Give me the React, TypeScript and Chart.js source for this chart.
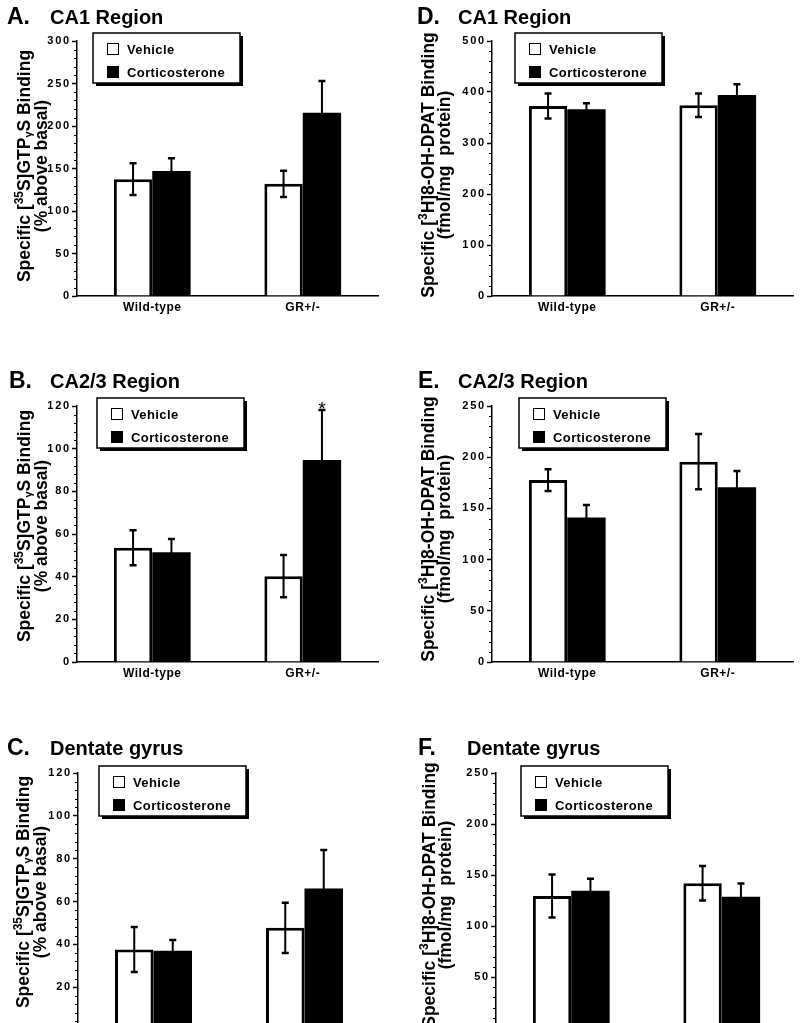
import { useEffect, useRef } from 'react';
import { Chart, registerables, LinearScale, CategoryScale } from 'chart.js';

Chart.register(...registerables);

class SpacedLinearScale extends LinearScale {
  static id = 'spacedLinear';
  static defaults = {};
  drawLabels(area: any) {
    const ctx: any = this.ctx;
    ctx.save();
    ctx.letterSpacing = '1.8px';
    super.drawLabels(area);
    ctx.restore();
  }
}
class SpacedCategoryScale extends CategoryScale {
  static id = 'spacedCategory';
  static defaults = {};
  drawLabels(area: any) {
    const ctx: any = this.ctx;
    ctx.save();
    ctx.letterSpacing = '0.5px';
    super.drawLabels(area);
    ctx.restore();
  }
}
Chart.register(SpacedLinearScale as any, SpacedCategoryScale as any);

// ---------- data ----------
const groups = ['Wild-type', 'GR+/-'];
const seriesNames = ['Vehicle', 'Corticosterone'];

// A. CA1 – [35S]GTPγS binding (% above basal)
const ca1GtpVehicle = [137.5, 132];
const ca1GtpVehicleSem = [18.7, 15.5];
const ca1GtpCort = [147, 215.5];
const ca1GtpCortSem = [15, 37.5];

// B. CA2/3 – [35S]GTPγS binding
const ca23GtpVehicle = [53.5, 40.2];
const ca23GtpVehicleSem = [8.2, 9.9];
const ca23GtpCort = [51.4, 94.7];
const ca23GtpCortSem = [6.3, 23.4];

// C. Dentate gyrus – [35S]GTPγS binding
const dgGtpVehicle = [37.6, 47.7];
const dgGtpVehicleSem = [10.5, 11.7];
const dgGtpCort = [37, 66.1];
const dgGtpCortSem = [5, 18];

// D. CA1 – [3H]8-OH-DPAT binding (fmol/mg protein)
const ca1DpatVehicle = [372.5, 374];
const ca1DpatVehicleSem = [24.5, 23];
const ca1DpatCort = [366, 394];
const ca1DpatCortSem = [12, 21];

// E. CA2/3 – [3H]8-OH-DPAT binding
const ca23DpatVehicle = [177.7, 195.6];
const ca23DpatVehicleSem = [10.6, 27];
const ca23DpatCort = [141, 170.6];
const ca23DpatCortSem = [12.3, 16];

// F. Dentate gyrus – [3H]8-OH-DPAT binding
const dgDpatVehicle = [129.4, 141.9];
const dgDpatVehicleSem = [21, 17];
const dgDpatCort = [134.6, 128.7];
const dgDpatCortSem = [11.7, 13];

// axis ranges: [max, major step, minor step]
const gtpCa1Axis = [300, 50, 10];
const gtpSmallAxis = [120, 20, 4];
const dpatCa1Axis = [500, 100, 20];
const dpatSmallAxis = [250, 50, 10];

// significance marker (group index on the Corticosterone series of panel B)
const ca23GtpStarGroup = [1];

const FONT = '"Liberation Sans", Arial, Helvetica, sans-serif';

type Seg = { t: string; s?: number; dy?: number };
const gtpLine1: Seg[] = [
  { t: 'Specific [' },
  { t: '35', s: 0.68, dy: -0.38 },
  { t: 'S]GTP' },
  { t: 'γ', s: 0.62, dy: 0.1 },
  { t: 'S Binding' },
];
const gtpLine2: Seg[] = [{ t: '(% above basal)' }];
const dpatLine1: Seg[] = [
  { t: 'Specific [' },
  { t: '3', s: 0.68, dy: -0.38 },
  { t: 'H]8-OH-DPAT Binding' },
];
const dpatLine2: Seg[] = [{ t: '(fmol/mg  protein)' }];

type PanelCfg = {
  letter: string;
  title: string;
  left: number;
  top: number;
  w: number;
  h: number;
  area: { l: number; t: number; r: number; b: number };
  axis: number[];
  veh: number[];
  vehErr: number[];
  cort: number[];
  cortErr: number[];
  line1: Seg[];
  line2: Seg[];
  labelCenter: number;
  line1X: number;
  line2X: number;
  legend: { x: number; y: number };
  titleY: number;
  letterX: number;
  textX: number;
  stars?: number[];
};

const panels: PanelCfg[] = [
  {
    letter: 'A.', title: 'CA1 Region', left: 0, top: 0, w: 400, h: 370,
    area: { l: 77, t: 41, r: 378, b: 296 }, axis: gtpCa1Axis,
    veh: ca1GtpVehicle, vehErr: ca1GtpVehicleSem, cort: ca1GtpCort, cortErr: ca1GtpCortSem,
    line1: gtpLine1, line2: gtpLine2, labelCenter: 166, line1X: 30, line2X: 46.5,
    legend: { x: 93, y: 33 }, titleY: 24, letterX: 7, textX: 50,
  },
  {
    letter: 'D.', title: 'CA1 Region', left: 400, top: 0, w: 400, h: 370,
    area: { l: 92, t: 41, r: 393, b: 296 }, axis: dpatCa1Axis,
    veh: ca1DpatVehicle, vehErr: ca1DpatVehicleSem, cort: ca1DpatCort, cortErr: ca1DpatCortSem,
    line1: dpatLine1, line2: dpatLine2, labelCenter: 165, line1X: 33.5, line2X: 50,
    legend: { x: 115, y: 33 }, titleY: 24, letterX: 17, textX: 58,
  },
  {
    letter: 'B.', title: 'CA2/3 Region', left: 0, top: 330, w: 400, h: 370,
    area: { l: 77, t: 76, r: 378, b: 332 }, axis: gtpSmallAxis,
    veh: ca23GtpVehicle, vehErr: ca23GtpVehicleSem, cort: ca23GtpCort, cortErr: ca23GtpCortSem,
    line1: gtpLine1, line2: gtpLine2, labelCenter: 196, line1X: 30, line2X: 46.5,
    legend: { x: 97, y: 68 }, titleY: 58, letterX: 9, textX: 50, stars: ca23GtpStarGroup,
  },
  {
    letter: 'E.', title: 'CA2/3 Region', left: 400, top: 330, w: 400, h: 370,
    area: { l: 92, t: 76, r: 393, b: 332 }, axis: dpatSmallAxis,
    veh: ca23DpatVehicle, vehErr: ca23DpatVehicleSem, cort: ca23DpatCort, cortErr: ca23DpatCortSem,
    line1: dpatLine1, line2: dpatLine2, labelCenter: 199, line1X: 33.5, line2X: 50,
    legend: { x: 119, y: 68 }, titleY: 58, letterX: 18, textX: 58,
  },
  {
    letter: 'C.', title: 'Dentate gyrus', left: 0, top: 660, w: 400, h: 410,
    area: { l: 78, t: 113, r: 380, b: 370 }, axis: gtpSmallAxis,
    veh: dgGtpVehicle, vehErr: dgGtpVehicleSem, cort: dgGtpCort, cortErr: dgGtpCortSem,
    line1: gtpLine1, line2: gtpLine2, labelCenter: 232, line1X: 29, line2X: 45.5,
    legend: { x: 99, y: 106 }, titleY: 95, letterX: 7, textX: 50,
  },
  {
    letter: 'F.', title: 'Dentate gyrus', left: 400, top: 660, w: 400, h: 410,
    area: { l: 96, t: 113, r: 397, b: 368 }, axis: dpatSmallAxis,
    veh: dgDpatVehicle, vehErr: dgDpatVehicleSem, cort: dgDpatCort, cortErr: dgDpatCortSem,
    line1: dpatLine1, line2: dpatLine2, labelCenter: 235, line1X: 34.5, line2X: 51,
    legend: { x: 121, y: 106 }, titleY: 95, letterX: 18, textX: 67,
  },
];

const X_AXIS_H = 30;

function drawRich(ctx: CanvasRenderingContext2D, segs: Seg[], size: number) {
  const widths: number[] = [];
  let total = 0;
  for (const s of segs) {
    ctx.font = `bold ${size * (s.s || 1)}px ${FONT}`;
    const w = ctx.measureText(s.t).width;
    widths.push(w);
    total += w;
  }
  let x = -total / 2;
  segs.forEach((s, i) => {
    ctx.font = `bold ${size * (s.s || 1)}px ${FONT}`;
    ctx.fillText(s.t, x, (s.dy || 0) * size);
    x += widths[i];
  });
}

function makeErrorPlugin() {
  return {
    id: 'errorBars',
    afterDatasetsDraw(chart: any) {
      const ctx: CanvasRenderingContext2D = chart.ctx;
      const y = chart.scales.y;
      chart.data.datasets.forEach((ds: any, i: number) => {
        const meta = chart.getDatasetMeta(i);
        meta.data.forEach((bar: any, j: number) => {
          const v = ds.data[j];
          const e = ds.errors[j];
          const top = y.getPixelForValue(v + e);
          const bot = y.getPixelForValue(v - e);
          ctx.save();
          ctx.strokeStyle = '#000';
          ctx.lineWidth = 2;
          ctx.beginPath();
          ctx.moveTo(bar.x, top);
          ctx.lineTo(bar.x, bot);
          ctx.stroke();
          ctx.lineWidth = 2.5;
          ctx.beginPath();
          ctx.moveTo(bar.x - 3.5, top);
          ctx.lineTo(bar.x + 3.5, top);
          ctx.moveTo(bar.x - 3.5, bot);
          ctx.lineTo(bar.x + 3.5, bot);
          ctx.stroke();
          ctx.restore();
        });
      });
    },
  };
}

function makeDecorPlugin(p: PanelCfg) {
  return {
    id: 'decor',
    afterDraw(chart: any) {
      const ctx: any = chart.ctx;
      const y = chart.scales.y;
      const ca = chart.chartArea;
      ctx.save();
      ctx.letterSpacing = '0px';
      ctx.fillStyle = '#000';
      ctx.textBaseline = 'alphabetic';
      ctx.textAlign = 'left';

      // title
      ctx.font = `bold 23px ${FONT}`;
      ctx.fillText(p.letter, p.letterX, p.titleY);
      ctx.font = `bold 20px ${FONT}`;
      ctx.fillText(p.title, p.textX, p.titleY);

      // minor ticks
      const [max, major, minor] = p.axis;
      ctx.strokeStyle = '#000';
      ctx.lineWidth = 1.2;
      ctx.beginPath();
      for (let v = 0; v <= max + 1e-9; v += minor) {
        if (Math.abs(v / major - Math.round(v / major)) < 1e-6) continue;
        const py = Math.round(y.getPixelForValue(v)) + 0.5;
        ctx.moveTo(ca.left - 3, py);
        ctx.lineTo(ca.left, py);
      }
      ctx.stroke();

      // y-axis title (two rotated lines)
      const size = 17.5;
      ctx.save();
      ctx.translate(p.line1X, p.labelCenter);
      ctx.rotate(-Math.PI / 2);
      drawRich(ctx, p.line1, size);
      ctx.restore();
      ctx.save();
      ctx.translate(p.line2X, p.labelCenter);
      ctx.rotate(-Math.PI / 2);
      drawRich(ctx, p.line2, size);
      ctx.restore();

      // legend box with shadow
      const lx = p.legend.x;
      const ly = p.legend.y;
      const lw = 147;
      const lh = 50;
      ctx.fillStyle = '#000';
      ctx.fillRect(lx + 3, ly + 3, lw, lh);
      ctx.fillStyle = '#fff';
      ctx.fillRect(lx, ly, lw, lh);
      ctx.strokeStyle = '#000';
      ctx.lineWidth = 1.5;
      ctx.strokeRect(lx, ly, lw, lh);
      ctx.lineWidth = 1;
      ctx.strokeRect(lx + 14.5, ly + 10.5, 11, 11);
      ctx.fillStyle = '#000';
      ctx.fillRect(lx + 14, ly + 33, 12, 12);
      ctx.font = `bold 13px ${FONT}`;
      ctx.letterSpacing = '0.4px';
      ctx.fillText(seriesNames[0], lx + 34, ly + 21);
      ctx.fillText(seriesNames[1], lx + 34, ly + 44);
      ctx.letterSpacing = '0px';

      // significance stars
      if (p.stars) {
        const meta = chart.getDatasetMeta(1);
        ctx.font = `19px ${FONT}`;
        ctx.textAlign = 'center';
        for (const g of p.stars) {
          const bar = meta.data[g];
          const top = y.getPixelForValue(p.cort[g] + p.cortErr[g]);
          ctx.fillText('*', bar.x, top + 5);
        }
      }
      ctx.restore();
    },
  };
}

function Panel({ p }: { p: PanelCfg }) {
  const ref = useRef<HTMLCanvasElement>(null);
  useEffect(() => {
    if (!ref.current) return;
    const [max, major] = p.axis;
    const chart = new Chart(ref.current, {
      type: 'bar',
      data: {
        labels: groups,
        datasets: [
          {
            label: seriesNames[0],
            data: p.veh,
            errors: p.vehErr,
            backgroundColor: '#ffffff',
            borderColor: '#000000',
            borderWidth: 3,
            barPercentage: 1,
            categoryPercentage: 0.51,
          } as any,
          {
            label: seriesNames[1],
            data: p.cort,
            errors: p.cortErr,
            backgroundColor: '#000000',
            borderWidth: 0,
            barPercentage: 1,
            categoryPercentage: 0.51,
          } as any,
        ],
      },
      options: {
        animation: false,
        responsive: false,
        devicePixelRatio: 1,
        layout: {
          padding: {
            left: 0,
            top: p.area.t,
            right: p.w - p.area.r,
            bottom: p.h - p.area.b - X_AXIS_H,
          },
        },
        plugins: {
          legend: { display: false },
          title: { display: false },
          tooltip: { enabled: false },
        },
        scales: {
          x: {
            type: 'spacedCategory' as any,
            grid: { display: false, drawTicks: false },
            border: { display: true, color: '#000', width: 1.5 },
            ticks: {
              color: '#000',
              font: { family: FONT, size: 12, weight: 'bold' },
              padding: 4,
              maxRotation: 0,
            },
            afterFit: (s: any) => {
              s.height = X_AXIS_H;
            },
          },
          y: {
            type: 'spacedLinear' as any,
            min: 0,
            max,
            grid: {
              drawOnChartArea: false,
              drawTicks: true,
              tickLength: 5,
              tickColor: '#000',
              tickWidth: 1.5,
            },
            border: { display: true, color: '#000', width: 1.5 },
            ticks: {
              stepSize: major,
              color: '#000',
              font: { family: FONT, size: 11, weight: 'bold' },
              padding: 1,
            },
            afterFit: (s: any) => {
              s.width = p.area.l;
            },
          },
        },
      },
      plugins: [makeErrorPlugin(), makeDecorPlugin(p)],
    } as any);
    return () => chart.destroy();
  }, [p]);
  return (
    <canvas
      ref={ref}
      width={p.w}
      height={p.h}
      style={{ position: 'absolute', left: p.left, top: p.top, width: p.w, height: p.h }}
    />
  );
}

export default function App() {
  return (
    <div
      style={{
        position: 'absolute',
        left: 0,
        top: 0,
        width: 800,
        height: 1023,
        overflow: 'hidden',
        background: '#fff',
      }}
    >
      {panels.map((p) => (
        <Panel key={p.letter} p={p} />
      ))}
    </div>
  );
}
